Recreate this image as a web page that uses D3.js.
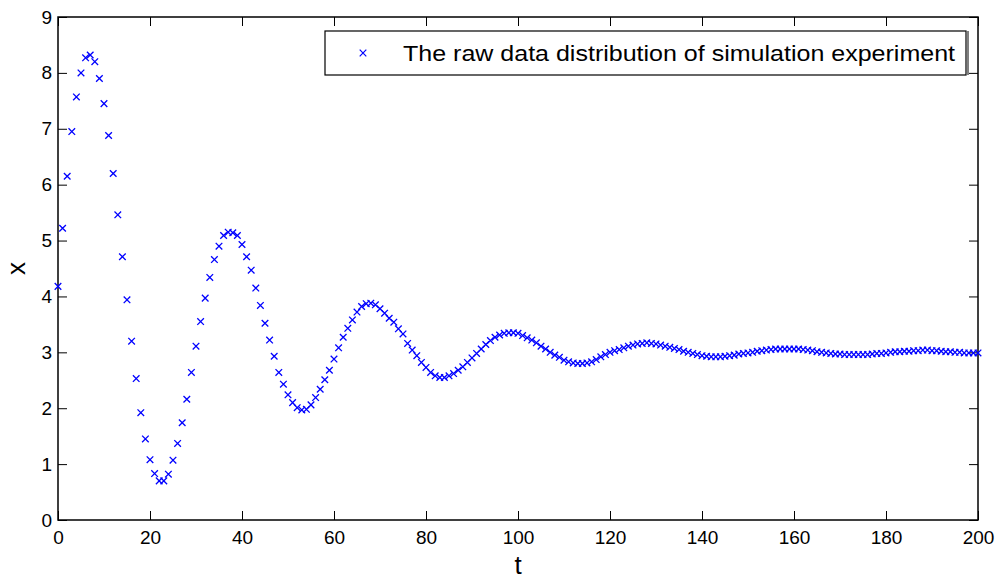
<!DOCTYPE html>
<html><head><meta charset="utf-8">
<script src="https://cdn.jsdelivr.net/npm/d3@7"></script>
<style>body{margin:0;background:#fff}svg{display:block}text{font-family:"Liberation Sans",Arial,sans-serif}</style>
</head><body><svg id="c" width="999" height="579"></svg>
<script>
const xValues = [
4.18,5.22,6.15,6.95,7.57,8.00,8.27,8.32,8.20,7.90,
7.45,6.88,6.20,5.46,4.71,3.94,3.20,2.53,1.92,1.45,
1.08,0.83,0.70,0.70,0.82,1.07,1.37,1.74,2.16,2.64,
3.11,3.55,3.97,4.34,4.66,4.90,5.09,5.15,5.14,5.09,
4.93,4.71,4.47,4.15,3.84,3.52,3.22,2.93,2.64,2.43,
2.24,2.10,2.01,1.97,1.98,2.06,2.19,2.34,2.51,2.68,
2.88,3.08,3.27,3.43,3.58,3.72,3.82,3.87,3.88,3.85,
3.78,3.70,3.61,3.54,3.42,3.33,3.16,3.04,2.94,2.82,
2.73,2.64,2.58,2.55,2.55,2.58,2.62,2.68,2.74,2.82,
2.90,2.98,3.06,3.14,3.21,3.27,3.31,3.34,3.35,3.35,
3.34,3.30,3.26,3.22,3.17,3.11,3.06,3.00,2.95,2.91,
2.86,2.83,2.81,2.80,2.80,2.81,2.83,2.87,2.92,2.96,
3.00,3.03,3.05,3.08,3.11,3.13,3.15,3.16,3.17,3.16,
3.15,3.13,3.11,3.09,3.07,3.05,3.02,3.00,2.98,2.96,
2.94,2.93,2.92,2.92,2.92,2.93,2.94,2.95,2.97,2.98,
2.99,3.00,3.02,3.03,3.04,3.05,3.06,3.06,3.06,3.06,
3.06,3.06,3.05,3.04,3.03,3.01,3.00,2.99,2.98,2.97,
2.97,2.96,2.96,2.96,2.96,2.96,2.96,2.97,2.98,2.98,
2.99,3.00,3.01,3.01,3.02,3.02,3.03,3.03,3.04,3.04,
3.03,3.03,3.02,3.01,3.01,3.00,3.00,2.99,2.99,2.99,
2.99];
const tValues = xValues.map((v,i)=>i);
const xTicks = [0,20,40,60,80,100,120,140,160,180,200];
const yTicks = [0,1,2,3,4,5,6,7,8,9];
const legendLabel = "The raw data distribution of simulation experiment";
const xTitle = "t", yTitle = "x";

const svg = d3.select("#c");
const L=58,R=978,T=17,B=520;
const xs = d3.scaleLinear().domain([0,200]).range([L,R]);
const ys = d3.scaleLinear().domain([0,9]).range([B,T]);
const tickLen = 9;

const gx = svg.append("g").attr("transform",`translate(0,${B})`)
  .call(d3.axisBottom(xs).tickValues(xTicks).tickSizeInner(-tickLen).tickSizeOuter(0).tickPadding(tickLen+5));
const gxt = svg.append("g").attr("transform",`translate(0,${T})`)
  .call(d3.axisTop(xs).tickValues(xTicks).tickSizeInner(-tickLen).tickSizeOuter(0).tickFormat(""));
const gy = svg.append("g").attr("transform",`translate(${L},0)`)
  .call(d3.axisLeft(ys).tickValues(yTicks).tickSizeInner(-tickLen).tickSizeOuter(0).tickPadding(tickLen+5));
const gyr = svg.append("g").attr("transform",`translate(${R},0)`)
  .call(d3.axisRight(ys).tickValues(yTicks).tickSizeInner(-tickLen).tickSizeOuter(0).tickFormat(""));
[gx,gxt,gy,gyr].forEach(g=>{
  g.select(".domain").remove();
  g.selectAll(".tick line").attr("stroke","#000").attr("stroke-width",1);
  g.selectAll("text").attr("font-size",19).attr("fill","#000").attr("font-family","'Liberation Sans',Arial,sans-serif");
});
gx.selectAll("text").attr("dy","0.75em").attr("y",10);
gy.selectAll("text").attr("x",-6);

svg.append("rect").attr("x",L).attr("y",T).attr("width",R-L).attr("height",B-T)
  .attr("fill","none").attr("stroke","#000").attr("stroke-width",1.5);

const s=3.3;
const mk = svg.append("g").attr("stroke","#0000ff").attr("stroke-width",1.3).attr("fill","none");
mk.selectAll("path").data(xValues).join("path")
  .attr("d",(d,i)=>{const cx=xs(tValues[i]),cy=ys(d);
    return `M${cx-s},${cy-s}L${cx+s},${cy+s}M${cx-s},${cy+s}L${cx+s},${cy-s}`;});

svg.append("text").attr("x",(L+R)/2).attr("y",574).attr("text-anchor","middle")
  .attr("font-size",26).text(xTitle);
svg.append("text").attr("transform",`translate(25,${(T+B)/2}) rotate(-90)`).attr("text-anchor","middle")
  .attr("font-size",26).text(yTitle);

const lg = svg.append("g");
lg.append("rect").attr("x",325).attr("y",31).attr("width",641).attr("height",44)
  .attr("fill","#fff").attr("stroke","#000").attr("stroke-width",1.2);
lg.append("line").attr("x1",968).attr("x2",968).attr("y1",31).attr("y2",75).attr("stroke","#000").attr("stroke-width",1);
const lx=363,ly=53;
lg.append("path").attr("d",`M${lx-s},${ly-s}L${lx+s},${ly+s}M${lx-s},${ly+s}L${lx+s},${ly-s}`)
  .attr("stroke","#0000ff").attr("stroke-width",1.2).attr("fill","none");
const lt = lg.append("text").attr("x",403).attr("y",61).attr("font-size",22).text(legendLabel);
const w = lt.node().getComputedTextLength();
if (Math.abs(w-552)>4) lt.attr("textLength",552).attr("lengthAdjust","spacingAndGlyphs");
</script></body></html>
